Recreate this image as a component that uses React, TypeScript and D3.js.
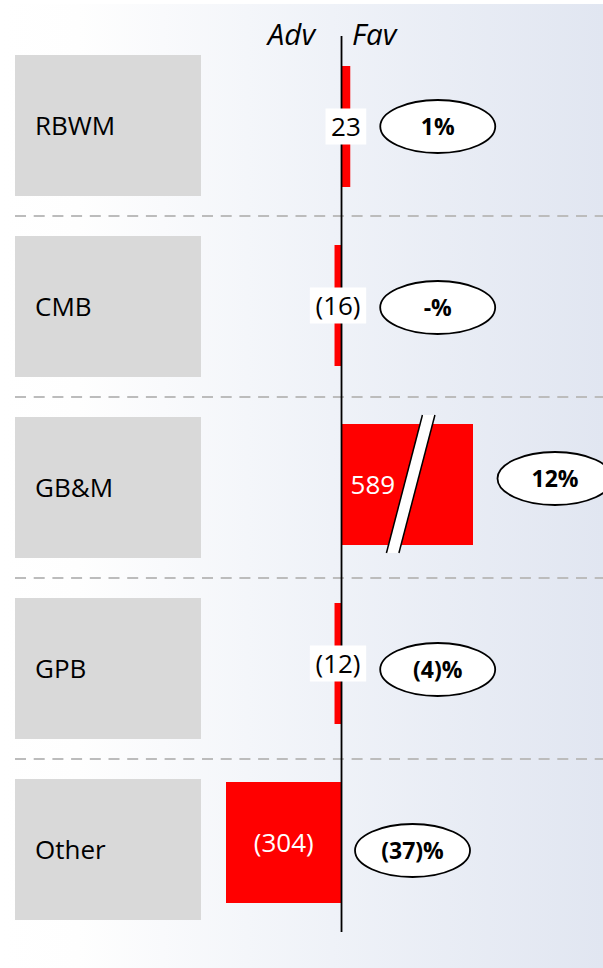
import React from 'react';
import * as d3 from 'd3';

const categories = ['RBWM', 'CMB', 'GB&M', 'GPB', 'Other'];
const values = [23, -16, 589, -12, -304];
const valueLabels = ['23', '(16)', '589', '(12)', '(304)'];
const pctLabels = ['1%', '-%', '12%', '(4)%', '(37)%'];
const brokenCap = 346; // bars above this are drawn truncated with a break
const headerLabels = ['Adv', 'Fav'];

const W = 603;
const H = 968;
const FONT = "'Open Sans', 'Noto Sans', sans-serif";

export default function App() {
  const x = d3.scaleLinear().domain([-304, brokenCap]).range([226, 473]);
  const x0 = x(0);
  const boxY = d3.scaleBand().domain(categories).range([55, 920]).paddingInner(40 / 181).paddingOuter(0);
  const barY = d3.scaleBand().domain(categories).range([66, 903]).paddingInner(58 / 179).paddingOuter(0);
  const minBar = 7;
  const fs = 26;
  const charW = (s: string, size: number) => {
    let w = 0;
    for (const c of s) w += c === '(' || c === ')' ? 0.3 : 0.572;
    return w * size;
  };

  const rows = categories.map((c, i) => {
    const v = values[i];
    const broken = v > brokenCap;
    const shown = broken ? brokenCap : v;
    let xa = Math.min(x(shown), x0);
    let xb = Math.max(x(shown), x0);
    if (xb - xa < minBar) {
      if (v >= 0) xb = xa + minBar;
      else xa = xb - minBar;
    }
    const y = barY(c) as number;
    const h = barY.bandwidth();
    const cy = y + h / 2;
    const lbl = valueLabels[i];
    const tw = charW(lbl, fs);
    const inside = xb - xa > tw + 16;
    const slashMid = x0 + (xb - x0) * 0.525;
    const slashTop = y - 9;
    const slashBot = y + h + 8;
    const slope = 36 / 138;
    const sw = 12.5;
    const topX = slashMid + (cy - slashTop) * slope;
    const botX = slashMid - (slashBot - cy) * slope;
    let labelX = (xa + xb) / 2;
    if (broken) labelX = (x0 + slashMid - sw / 2) / 2;
    const labelRight = labelX + tw / 2 + 6;
    const right = Math.max(x0, v >= 0 ? xb : x0, inside ? 0 : labelRight);
    const pillCx = right + (broken ? 24 : 13) + 58;
    const pillCy = (boxY(c) as number) + boxY.bandwidth() / 2 + (broken ? -9 : 1);
    return { c, i, v, broken, xa, xb, y, h, cy, lbl, tw, inside, slashTop, slashBot, sw, topX, botX, labelX, pillCx, pillCy };
  });

  return (
    <svg width={W} height={H} style={{ position: 'fixed', left: 0, top: 0, display: 'block' }} fontFamily={FONT}>
      <defs>
        <linearGradient id="bg" x1="0" x2="1" y1="0" y2="0">
          <stop offset="0" stopColor="#ffffff" />
          <stop offset="0.13" stopColor="#fefefe" />
          <stop offset="0.55" stopColor="#eff2f8" />
          <stop offset="1" stopColor="#e1e6f1" />
        </linearGradient>
      </defs>
      <rect x={0} y={0} width={W} height={H} fill="#ffffff" />
      <rect x={0} y={4} width={W} height={H - 4} fill="url(#bg)" />

      {/* dashed separators */}
      {categories.slice(0, -1).map((c) => {
        const y = (boxY(c) as number) + boxY.bandwidth() + 20;
        return (
          <line key={'d' + c} x1={15} x2={W} y1={y} y2={y} stroke="#bcbcbc" strokeWidth={2} strokeDasharray="11 7.7" />
        );
      })}

      {/* category boxes */}
      {categories.map((c) => {
        const y = boxY(c) as number;
        return (
          <g key={'b' + c}>
            <rect x={15} y={y} width={186} height={boxY.bandwidth()} fill="#d9d9d9" />
            <text x={35} y={y + boxY.bandwidth() / 2} dy="0.36em" fontSize={26} fill="#000">
              {c}
            </text>
          </g>
        );
      })}

      {/* header */}
      <text x={315} y={45} textAnchor="end" fontSize={29.5} fontStyle="italic">{headerLabels[0]}</text>
      <text x={352} y={45} textAnchor="start" fontSize={29.5} fontStyle="italic">{headerLabels[1]}</text>

      {/* bars */}
      {rows.map((r) => (
        <g key={'bar' + r.c}>
          <rect x={r.xa} y={r.y} width={r.xb - r.xa} height={r.h} fill="#ff0000" />
          {r.broken && (
            <g>
              <polygon
                points={`${r.topX - r.sw / 2},${r.slashTop} ${r.topX + r.sw / 2},${r.slashTop} ${r.botX + r.sw / 2},${r.slashBot} ${r.botX - r.sw / 2},${r.slashBot}`}
                fill="#ffffff"
              />
              <line x1={r.topX - r.sw / 2} y1={r.slashTop} x2={r.botX - r.sw / 2} y2={r.slashBot} stroke="#000" strokeWidth={1.5} />
              <line x1={r.topX + r.sw / 2} y1={r.slashTop} x2={r.botX + r.sw / 2} y2={r.slashBot} stroke="#000" strokeWidth={1.5} />
            </g>
          )}
        </g>
      ))}

      {/* zero axis */}
      <line x1={x0} x2={x0} y1={36} y2={932} stroke="#000" strokeWidth={1.8} />

      {/* labels and pills */}
      {rows.map((r) => (
        <g key={'lbl' + r.c}>
          {r.inside ? (
            <text x={r.labelX} y={r.cy} dy="0.36em" textAnchor="middle" fontSize={fs} fill="#ffffff">
              {r.lbl}
            </text>
          ) : (
            <g>
              <rect x={r.labelX - r.tw / 2 - 5.5} y={r.cy - 18} width={r.tw + 11} height={36} fill="#ffffff" />
              <text x={r.labelX} y={r.cy} dy="0.36em" textAnchor="middle" fontSize={fs} fill="#000">
                {r.lbl}
              </text>
            </g>
          )}
          <ellipse cx={r.pillCx} cy={r.pillCy} rx={57.5} ry={26.5} fill="#ffffff" stroke="#000" strokeWidth={1.8} />
          <text x={r.pillCx} y={r.pillCy} dy="0.36em" textAnchor="middle" fontSize={23} fontWeight="bold" fill="#000">
            {pctLabels[r.i]}
          </text>
        </g>
      ))}
    </svg>
  );
}
